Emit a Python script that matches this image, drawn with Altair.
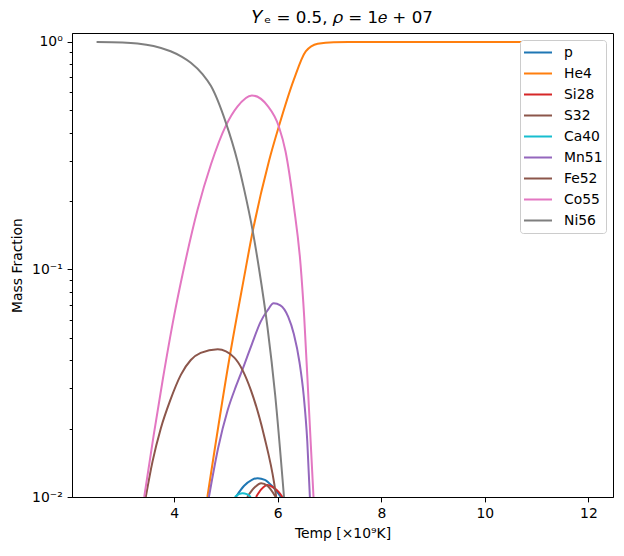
import altair as alt
import pandas as pd

series = ["p", "He4", "Si28", "S32", "Ca40", "Mn51", "Fe52", "Co55", "Ni56"]
colors = ["#1f77b4", "#ff7f0e", "#d62728", "#8c564b", "#17becf",
          "#9467bd", "#8c564b", "#e377c2", "#7f7f7f"]

p_T = [5.19, 5.35, 5.50, 5.61, 5.75, 5.90, 6.06]
p_X = [0.0100, 0.0112, 0.0119, 0.0121, 0.0119, 0.0111, 0.0100]

He4_T = [4.64, 5.06, 5.34, 5.51, 5.83, 6.02, 6.31, 6.54, 6.77, 7.08, 8.0, 10.0, 12.0]
He4_X = [0.0100, 0.040, 0.090, 0.145, 0.30, 0.425, 0.683, 0.909, 0.983, 0.998, 1.0, 1.0, 1.0]

Si28_T = [5.58, 5.68, 5.80, 5.92, 6.02, 6.09]
Si28_X = [0.0100, 0.0108, 0.0113, 0.0110, 0.0105, 0.0100]

S32_T = [5.41, 5.55, 5.68, 5.80, 5.96]
S32_X = [0.0100, 0.0110, 0.0115, 0.0112, 0.0100]

Ca40_T = [5.17, 5.25, 5.32, 5.40, 5.48]
Ca40_X = [0.0100, 0.0103, 0.0104, 0.0103, 0.0100]

Mn51_T = [4.67, 4.85, 5.03, 5.20, 5.35, 5.50, 5.67, 5.80, 5.92, 6.05, 6.20,
          6.31, 6.42, 6.50, 6.57, 6.62]
Mn51_X = [0.0100, 0.0165, 0.024, 0.031, 0.038, 0.047, 0.059, 0.066, 0.071, 0.0695, 0.062,
          0.052, 0.039, 0.028, 0.0175, 0.0100]

Fe52_T = [3.45, 3.58, 3.74, 3.92, 4.13, 4.32, 4.51, 4.84, 5.16, 5.48, 5.74, 5.93, 5.97]
Fe52_X = [0.0100, 0.0143, 0.020, 0.0265, 0.0345, 0.040, 0.043, 0.0446, 0.041, 0.0295,
          0.0184, 0.0115, 0.0100]

Co55_T = [3.42, 3.60, 3.78, 4.00, 4.16, 4.45, 4.71, 5.00, 5.22, 5.50, 5.80, 6.02,
          6.15, 6.31, 6.44, 6.51, 6.60, 6.69]
Co55_X = [0.0100, 0.0185, 0.033, 0.063, 0.095, 0.183, 0.29, 0.43, 0.52, 0.582, 0.525,
          0.425, 0.33, 0.19, 0.105, 0.062, 0.025, 0.0100]

Ni56_T = [2.50, 3.00, 3.29, 3.60, 3.93, 4.15, 4.32, 4.55, 4.71, 5.00, 5.22, 5.35,
          5.51, 5.64, 5.80, 5.95, 6.12]
Ni56_X = [1.0, 0.995, 0.985, 0.96, 0.91, 0.86, 0.81, 0.72, 0.64, 0.44, 0.30, 0.225,
          0.15, 0.10, 0.056, 0.028, 0.0100]

x_ticks = [4, 6, 8, 10, 12]
y_ticks = [0.01, 0.02, 0.03, 0.04, 0.05, 0.06, 0.07, 0.08, 0.09,
           0.1, 0.2, 0.3, 0.4, 0.5, 0.6, 0.7, 0.8, 0.9, 1.0]

all_T = [p_T, He4_T, Si28_T, S32_T, Ca40_T, Mn51_T, Fe52_T, Co55_T, Ni56_T]
all_X = [p_X, He4_X, Si28_X, S32_X, Ca40_X, Mn51_X, Fe52_X, Co55_X, Ni56_X]

rows = []
for name, ts, xs in zip(series, all_T, all_X):
    for i, (t, x) in enumerate(zip(ts, xs)):
        rows.append({"species": name, "T": t, "X": x, "i": i})
df = pd.DataFrame(rows)

y_label_expr = ("datum.value == 1 ? '10⁰' : (abs(datum.value - 0.1) < 1e-9 ? '10⁻¹' : "
                "(abs(datum.value - 0.01) < 1e-9 ? '10⁻²' : ''))")
major_test = ("abs(datum.value - 1) < 1e-9 || abs(datum.value - 0.1) < 1e-9 || "
              "abs(datum.value - 0.01) < 1e-9")

chart = alt.Chart(df).mark_line(clip=True, strokeWidth=2, interpolate="monotone").encode(
    x=alt.X("T:Q",
            scale=alt.Scale(domain=[2.025, 12.475], nice=False, zero=False),
            axis=alt.Axis(values=x_ticks, title="Temp [×10⁹K]", titlePadding=6,
                          labelFlush=False)),
    y=alt.Y("X:Q",
            scale=alt.Scale(type="log", domain=[0.01, 1.095], nice=False),
            axis=alt.Axis(values=y_ticks, title="Mass Fraction", labelExpr=y_label_expr,
                          tickSize={"condition": {"test": major_test, "value": 4.9}, "value": 2.8},
                          titleX=-51, titleY=232, titleBaseline="alphabetic",
                          labelFlush=False, labelOverlap=False)),
    color=alt.Color("species:N",
                    scale=alt.Scale(domain=series, range=colors),
                    legend=alt.Legend(title=None, orient="none", legendX=448, legendY=7,
                                      symbolType="stroke", symbolSize=784,
                                      symbolStrokeWidth=2, labelOffset=11,
                                      labelFont="DejaVu Sans", labelFontSize=13.9,
                                      labelColor="black", rowPadding=2, clipHeight=19,
                                      fillColor="white", strokeColor="#cccccc",
                                      cornerRadius=3, padding=3)),
    order=alt.Order("i:Q"),
).properties(
    width=541, height=464,
    title=alt.TitleParams("𝑌ₑ = 0.5, 𝜌 = 1𝑒 + 07", font="DejaVu Sans", fontSize=16.7,
                          fontWeight="normal", color="black", anchor="middle", offset=6),
    autosize=alt.AutoSizeParams(type="none"),
    padding={"left": 64, "top": 25, "right": 3, "bottom": 50},
).configure_view(
    stroke="black", strokeWidth=1
).configure_axis(
    grid=False, domainColor="black", tickColor="black", labelColor="black",
    titleColor="black", labelFont="DejaVu Sans", titleFont="DejaVu Sans",
    labelFontSize=13.9, titleFontSize=13.9, titleFontWeight="normal",
    tickSize=4.9, labelPadding=4.9, domainWidth=1, tickWidth=1
)

chart.save("out.html", embed_options={"renderer": "svg", "actions": False})
